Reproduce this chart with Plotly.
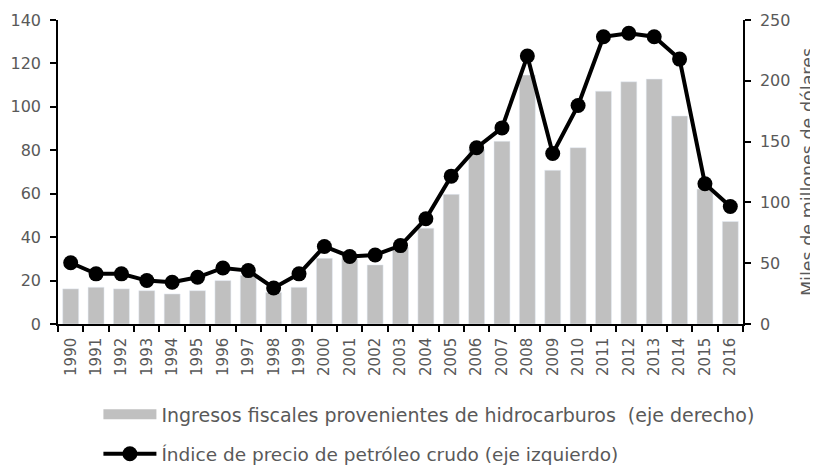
import plotly.graph_objects as go

years = [str(y) for y in range(1990, 2017)]
ingresos = [28.9, 30.2, 28.9, 27.4, 24.7, 27.4, 35.7, 40.0, 26.0, 30.2,
            54.0, 53.6, 48.6, 63.0, 78.8, 106.6, 144.0, 150.3, 204.7, 126.4,
            145.0, 191.5, 199.2, 201.4, 171.1, 111.0, 84.3]
precio = [28.2, 23.1, 23.1, 20.0, 19.2, 21.5, 25.8, 24.6, 16.6, 23.1,
          35.7, 31.1, 31.8, 36.1, 48.5, 68.1, 81.2, 90.3, 123.4, 78.5,
          100.6, 132.3, 133.9, 132.3, 122.0, 64.6, 54.1]

name_bar = "Ingresos fiscales provenientes de hidrocarburos  (eje derecho)"
name_line = "Índice de precio de petróleo crudo (eje izquierdo)"

GRAY_TXT = "#595959"
BAR_C = "#C0C0C0"
FONT = "DejaVu Sans"

fig = go.Figure()
fig.add_trace(go.Bar(x=years, y=ingresos, marker_color=BAR_C, yaxis="y",
                     showlegend=False, name=name_bar))
# legend proxy for the bars (wide swatch)
fig.add_trace(go.Scatter(x=[years[0]], y=[None], mode="lines", name=name_bar,
                         line=dict(color=BAR_C, width=10), yaxis="y",
                         legend="legend", hoverinfo="skip"))
fig.add_trace(go.Scatter(x=years, y=precio, mode="lines+markers", name=name_line,
                         line=dict(color="black", width=4),
                         marker=dict(size=15, color="black"),
                         yaxis="y2", legend="legend2"))

axis_common = dict(showline=True, linecolor="black", linewidth=1.5,
                   ticks="outside", ticklen=6, tickcolor="black", tickwidth=1.5,
                   showgrid=False, zeroline=False, automargin=False,
                   ticklabelstandoff=6,
                   tickfont=dict(family=FONT, size=16, color=GRAY_TXT))

fig.update_layout(
    width=810, height=457,
    margin=dict(l=50, r=75, t=12, b=141, autoexpand=False),
    plot_bgcolor="white", paper_bgcolor="white",
    bargap=0.37,
    xaxis=dict(type="category", tickson="boundaries", tickangle=-90,
               range=[-0.5, len(years) - 0.5],
               showline=True, linecolor="black", linewidth=1.5,
               ticks="outside", ticklen=6, tickcolor="black", tickwidth=1.5,
               showgrid=False, zeroline=False, automargin=False,
               ticklabelstandoff=6,
               tickfont=dict(family=FONT, size=15, color=GRAY_TXT)),
    yaxis=dict(side="right", range=[0, 250], dtick=50,
               title=dict(text="Miles de millones de dólares", standoff=14,
                          font=dict(family=FONT, size=17.5, color=GRAY_TXT)),
               **axis_common),
    yaxis2=dict(overlaying="y", side="left", range=[0, 140], dtick=20,
                **axis_common),
    legend=dict(x=0.059, y=-0.235, xanchor="left", yanchor="top",
                itemwidth=53, bgcolor="rgba(0,0,0,0)",
                font=dict(family=FONT, size=19, color=GRAY_TXT)),
    legend2=dict(x=0.059, y=-0.366, xanchor="left", yanchor="top",
                 itemwidth=53, bgcolor="rgba(0,0,0,0)",
                 font=dict(family=FONT, size=18.5, color=GRAY_TXT)),
)

fig.write_html("out.html")
